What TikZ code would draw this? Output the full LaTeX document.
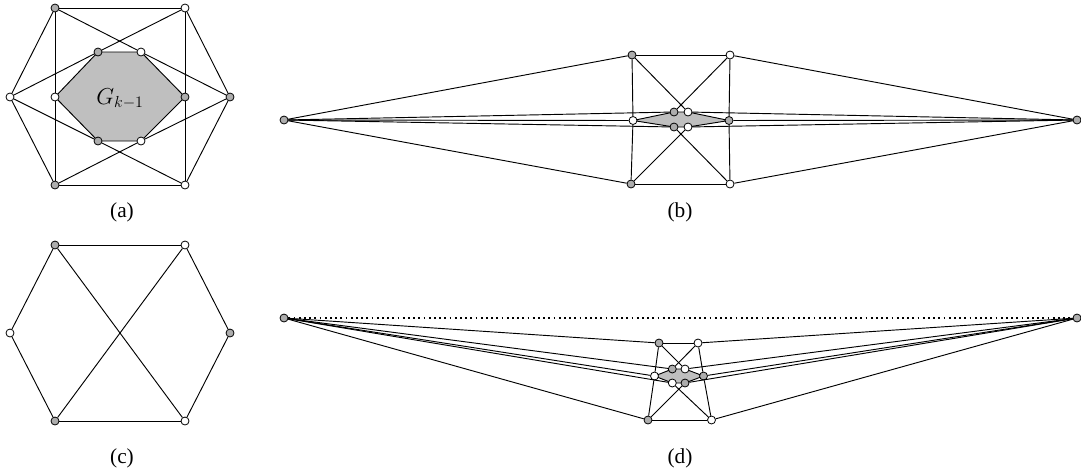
\documentclass[tikz,border=0pt]{standalone}
\usepackage{fontspec}
\setmainfont{Liberation Serif}
\usetikzlibrary{backgrounds}
\begin{document}
\begin{tikzpicture}[x=0.75pt, y=-0.75pt,
  every node/.style={font=\fontsize{16}{18}\selectfont},
  wv/.style={circle, draw=black, line width=0.6pt, fill=white, inner sep=0pt, minimum size=6pt},
  gv/.style={wv, fill=black!32},
  edge/.style={line width=0.7pt},
  innerface/.style={fill=black!25, draw=black, line width=0.7pt},
  dotline/.style={line width=1.4pt, dash pattern=on 1.3pt off 2.6pt}]
\useasboundingbox (0,0) rectangle (1081,472);
% (a) G_k with G_{k-1} inside
\node[gv] (a-tl) at (55,8) {};
\node[wv] (a-tr) at (185,8) {};
\node[wv] (a-l) at (10,97) {};
\node[gv] (a-r) at (230,97) {};
\node[gv] (a-bl) at (55,185) {};
\node[wv] (a-br) at (185,185) {};
\node[wv] (a-il) at (55,97) {};
\node[gv] (a-ir) at (185,97) {};
\node[gv] (a-itl) at (98,52) {};
\node[wv] (a-itr) at (141,52) {};
\node[gv] (a-ibl) at (98,141) {};
\node[wv] (a-ibr) at (141,141) {};
\begin{scope}[on background layer]
\draw[innerface] (a-il.center) -- (a-itl.center) -- (a-itr.center) -- (a-ir.center) -- (a-ibr.center) -- (a-ibl.center) -- cycle;
\end{scope}
\node (a-name) at (120,99) {\fontsize{17.28}{20}\selectfont $G_{k-1}$};
\foreach \u/\v in {tl/tr, tr/r, r/br, br/bl, bl/l, l/tl, tl/il, il/bl, tr/ir, ir/br,
  tl/itr, itr/r, tr/itl, itl/l, bl/ibr, ibr/r, br/ibl, ibl/l}
  \draw[edge] (a-\u) -- (a-\v);
\node (a-lab) at (122,212) {(a)};
% (b) stretched drawing
\node[gv] (b-l) at (284,120) {};
\node[gv] (b-r) at (1077,120) {};
\node[gv] (b-tl) at (632,55) {};
\node[wv] (b-tr) at (730,55) {};
\node[gv] (b-bl) at (631,184) {};
\node[wv] (b-br) at (730,184) {};
\node[wv] (b-il) at (633,120.5) {};
\node[gv] (b-ir) at (729,120.5) {};
\node[gv] (b-itl) at (674,112) {};
\node[wv] (b-itr) at (688,112) {};
\node[gv] (b-ibl) at (674,127) {};
\node[wv] (b-ibr) at (688,127) {};
\begin{scope}[on background layer]
\draw[innerface] (b-il.center) -- (b-itl.center) -- (b-itr.center) -- (b-ir.center) -- (b-ibr.center) -- (b-ibl.center) -- cycle;
\end{scope}
\foreach \u/\v in {l/tl, l/bl, l/itl, l/il, l/ibl, r/tr, r/br, r/itr, r/ir, r/ibr,
  tl/tr, bl/br, tl/il, il/bl, tr/ir, ir/br, tl/itr, tr/itl, bl/ibr, br/ibl}
  \draw[edge] (b-\u) -- (b-\v);
\node (b-lab) at (680,212) {(b)};
% (c) base hexagon
\node[gv] (c-tl) at (55,245) {};
\node[wv] (c-tr) at (185,245) {};
\node[wv] (c-l) at (10,333) {};
\node[gv] (c-r) at (230,333) {};
\node[gv] (c-bl) at (55,421) {};
\node[wv] (c-br) at (185,421) {};
\foreach \u/\v in {tl/tr, tr/r, r/br, br/bl, bl/l, l/tl, tl/br, tr/bl}
  \draw[edge] (c-\u) -- (c-\v);
\node (c-lab) at (122,458) {(c)};
% (d) far vertices lifted, dotted edge
\node[gv] (d-l) at (284,318) {};
\node[gv] (d-r) at (1077,318) {};
\node[gv] (d-tl) at (659,343) {};
\node[wv] (d-tr) at (698,343) {};
\node[gv] (d-bl) at (648,420) {};
\node[wv] (d-br) at (711.5,420) {};
\node[wv] (d-il) at (654.5,376) {};
\node[gv] (d-ir) at (703.5,376) {};
\node[gv] (d-itl) at (672.3,369) {};
\node[wv] (d-itr) at (685,369) {};
\node[wv] (d-ibl) at (672.3,383) {};
\node[gv] (d-ibr) at (685,383) {};
\begin{scope}[on background layer]
\draw[innerface] (d-il.center) -- (d-itl.center) -- (d-itr.center) -- (d-ir.center) -- (d-ibr.center) -- (d-ibl.center) -- cycle;
\end{scope}
\draw[dotline] (d-l) -- (d-r);
\foreach \u/\v in {l/tl, l/bl, l/itl, l/il, l/ibl, r/tr, r/br, r/itr, r/ir, r/ibr,
  tl/tr, bl/br, tl/il, il/bl, tr/ir, ir/br, tl/itr, tr/itl, bl/ibr, br/ibl}
  \draw[edge] (d-\u) -- (d-\v);
\node (d-lab) at (680,458) {(d)};
\end{tikzpicture}
\end{document}
